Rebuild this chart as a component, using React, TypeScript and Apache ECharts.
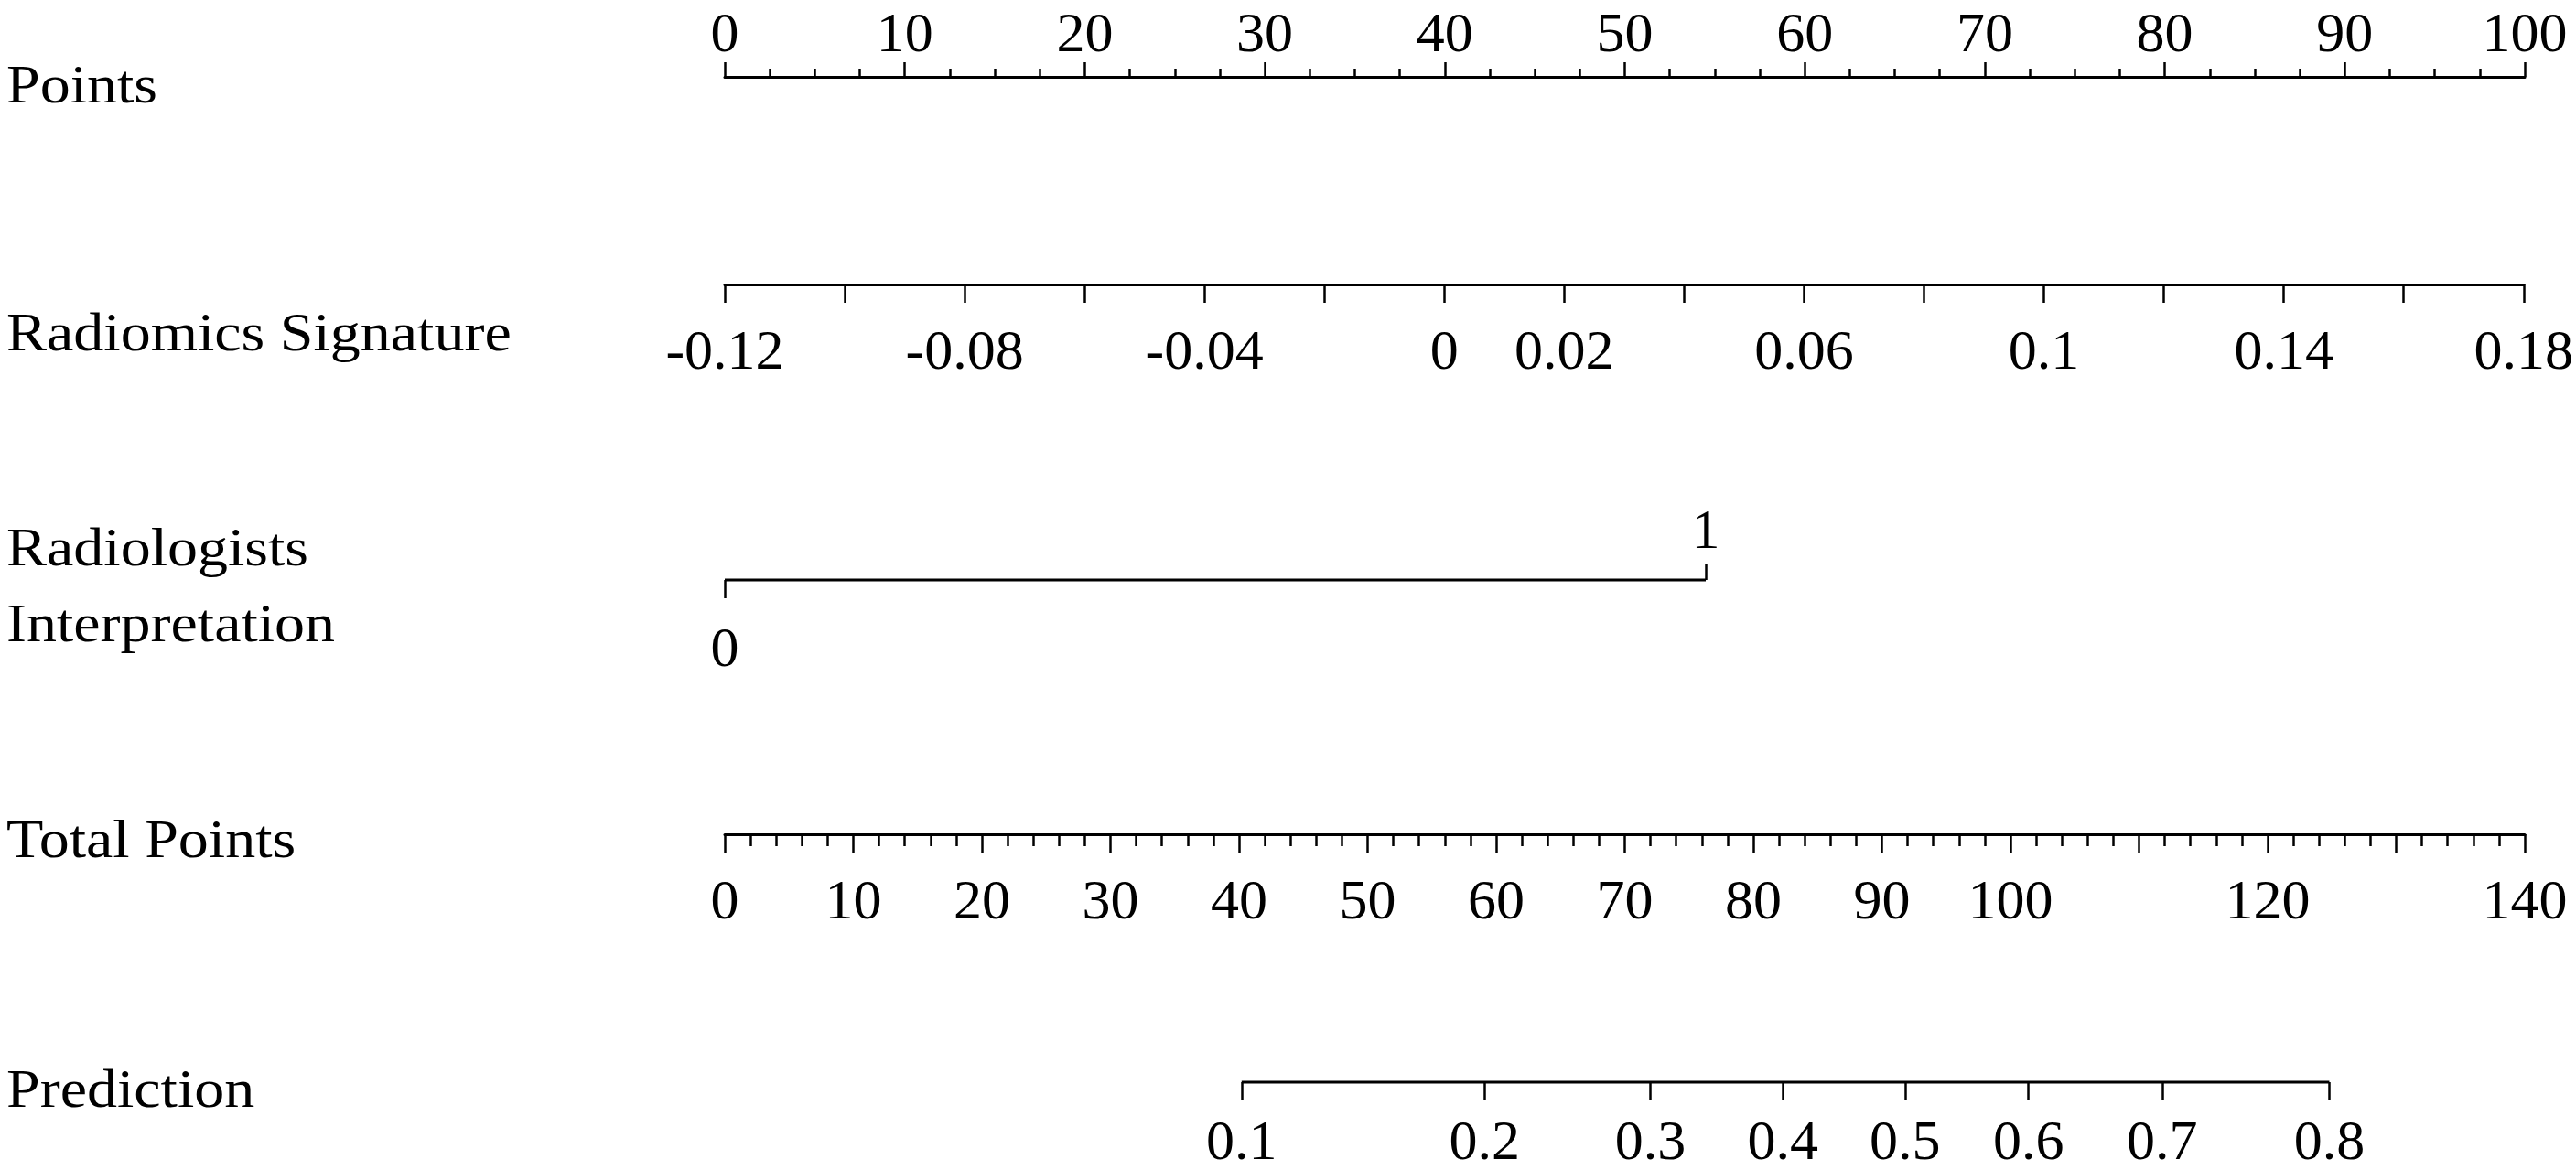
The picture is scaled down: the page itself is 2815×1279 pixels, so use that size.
import React, { useEffect, useRef } from "react";
import * as echarts from "echarts";

// ---- data ----
const rowNames = ["Points", "Radiomics Signature", "Radiologists", "Interpretation", "Total Points", "Prediction"];

const pointsMin = 0;
const pointsMax = 100;
const pointsStep = 10;

const radiomicsMin = -0.12;
const radiomicsMax = 0.18;
const radiomicsStep = 0.02;
const radiomicsLabels = [-0.12, -0.08, -0.04, 0, 0.02, 0.06, 0.1, 0.14, 0.18];

const radiologistsLevels = ["0", "1"];
const radiologistsPoints = [0, 54.5];

const totalMin = 0;
const totalMax = 140;
const totalStep = 10;
const totalLabels = [0, 10, 20, 30, 40, 50, 60, 70, 80, 90, 100, 120, 140];

const predictionLabels = ["0.1", "0.2", "0.3", "0.4", "0.5", "0.6", "0.7", "0.8"];
const predictionTotalPoints = [40.2, 59.1, 72.0, 82.3, 91.8, 101.4, 111.8, 124.8];

// ---- layout / style ----
const W = 2815;
const H = 1279;
const LEFT = 792;
const RIGHT = 56;
const FONT = "'Liberation Serif', 'Times New Roman', serif";
const FS = 62;
const LH = 46;
const rowY = { points: 84, radiomics: 311, radiologists: 634, total: 912, prediction: 1183 };
const labelY = [92, 363, 598, 681, 917, 1190];

const nearest = (arr: number[], v: number) => {
  let best = 0;
  arr.forEach((a, i) => {
    if (Math.abs(a - v) < Math.abs(arr[best] - v)) best = i;
  });
  return best;
};

const lineStyle = { color: "#000", width: 3 };
const tickStyle = { color: "#000", width: 2.5 };
const labelStyle = { color: "#000", fontFamily: FONT, fontSize: FS, lineHeight: LH };

export default function App() {
  const ref = useRef<HTMLDivElement>(null);

  useEffect(() => {
    if (!ref.current) return;
    const chart = echarts.init(ref.current, undefined, { renderer: "svg" });

    const grid = (top: number) => ({ left: LEFT, right: RIGHT, top, height: 0 });

    const option: any = {
      animation: false,
      backgroundColor: "#fff",
      grid: [
        grid(rowY.points),
        grid(rowY.radiomics),
        grid(rowY.radiologists),
        grid(rowY.total),
        grid(rowY.prediction),
      ],
      xAxis: [
        {
          gridIndex: 0,
          type: "value",
          position: "top",
          min: pointsMin,
          max: pointsMax,
          interval: pointsStep,
          splitLine: { show: false },
          axisLine: { show: true, lineStyle },
          axisTick: { show: true, length: 16, lineStyle: tickStyle },
          minorTick: { show: true, splitNumber: 4, length: 9, lineStyle: tickStyle },
          axisLabel: { ...labelStyle, margin: 26 },
        },
        {
          gridIndex: 1,
          type: "value",
          position: "bottom",
          min: radiomicsMin,
          max: radiomicsMax,
          interval: radiomicsStep,
          splitLine: { show: false },
          axisLine: { show: true, lineStyle },
          axisTick: { show: true, length: 20, lineStyle: tickStyle },
          axisLabel: { ...labelStyle, margin: 48, customValues: radiomicsLabels },
        },
        {
          gridIndex: 2,
          type: "value",
          position: "bottom",
          min: pointsMin,
          max: pointsMax,
          splitLine: { show: false },
          axisLine: { show: false },
          axisTick: { show: true, length: 20, lineStyle: tickStyle, customValues: [radiologistsPoints[0]] },
          axisLabel: {
            ...labelStyle,
            margin: 50,
            customValues: [radiologistsPoints[0]],
            formatter: (v: number) => radiologistsLevels[nearest(radiologistsPoints, v)],
          },
        },
        {
          gridIndex: 2,
          type: "value",
          position: "top",
          min: pointsMin,
          max: pointsMax,
          splitLine: { show: false },
          axisLine: { show: false },
          axisTick: { show: true, length: 18, lineStyle: tickStyle, customValues: [radiologistsPoints[1]] },
          axisLabel: {
            ...labelStyle,
            margin: 33,
            customValues: [radiologistsPoints[1]],
            formatter: (v: number) => radiologistsLevels[nearest(radiologistsPoints, v)],
          },
        },
        {
          gridIndex: 3,
          type: "value",
          position: "bottom",
          min: totalMin,
          max: totalMax,
          interval: totalStep,
          splitLine: { show: false },
          axisLine: { show: true, lineStyle },
          axisTick: { show: true, length: 21, lineStyle: tickStyle },
          minorTick: { show: true, splitNumber: 5, length: 13, lineStyle: tickStyle },
          axisLabel: { ...labelStyle, margin: 48, customValues: totalLabels },
        },
        {
          gridIndex: 4,
          type: "value",
          position: "bottom",
          min: totalMin,
          max: totalMax,
          splitLine: { show: false },
          axisLine: { show: false },
          axisTick: { show: true, length: 20, lineStyle: tickStyle, customValues: predictionTotalPoints },
          axisLabel: {
            ...labelStyle,
            margin: 40,
            customValues: predictionTotalPoints,
            formatter: (v: number) => predictionLabels[nearest(predictionTotalPoints, v)],
          },
        },
      ],
      yAxis: [0, 1, 2, 3, 4].map((i) => ({
        gridIndex: i,
        type: "value",
        min: -1,
        max: 1,
        show: false,
      })),
      series: [
        {
          type: "line",
          xAxisIndex: 2,
          yAxisIndex: 2,
          clip: false,
          symbol: "none",
          silent: true,
          lineStyle: { ...lineStyle, cap: "butt" },
          data: radiologistsPoints.map((p) => [p, 0]),
        },
        {
          type: "line",
          xAxisIndex: 5,
          yAxisIndex: 4,
          clip: false,
          symbol: "none",
          silent: true,
          lineStyle: { ...lineStyle, cap: "butt" },
          data: [
            [predictionTotalPoints[0], 0],
            [predictionTotalPoints[predictionTotalPoints.length - 1], 0],
          ],
        },
      ],
      graphic: rowNames.map((name, i) => ({
        type: "text",
        x: 7,
        y: labelY[i],
        scaleX: 1.1,
        style: {
          text: name,
          fill: "#000",
          fontFamily: FONT,
          fontSize: 60,
          align: "left",
          verticalAlign: "middle",
        },
      })),
    };

    chart.setOption(option);
    return () => chart.dispose();
  }, []);

  return (
    <div
      ref={ref}
      style={{ position: "fixed", left: 0, top: 0, width: W, height: H, background: "#fff" }}
    />
  );
}
